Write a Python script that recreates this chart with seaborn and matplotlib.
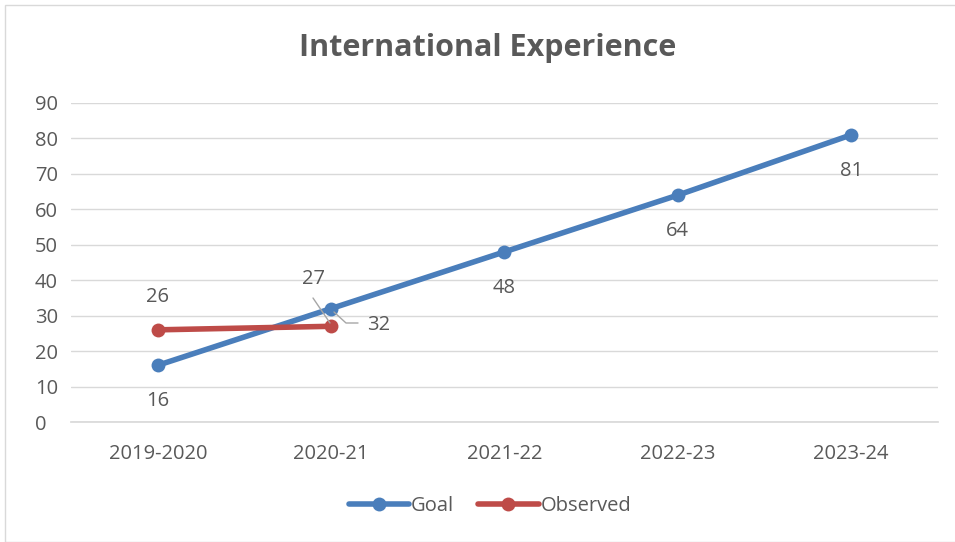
import matplotlib
matplotlib.use("Agg")
import matplotlib.pyplot as plt
import seaborn as sns
import pandas as pd
from matplotlib.patches import Rectangle
from matplotlib.lines import Line2D

# Data
years = ["2019-2020", "2020-21", "2021-22", "2022-23", "2023-24"]
goal = [16, 32, 48, 64, 81]
observed = [26, 27]

blue = "#4A7EBB"
red = "#BE4B48"
grey_text = "#595959"
fs = 14.5

sns.set_theme(style="white")
plt.rcParams["font.family"] = ["Open Sans", "DejaVu Sans"]

goal_df = pd.DataFrame({"year": years, "value": goal})
obs_df = pd.DataFrame({"year": years[:len(observed)], "value": observed})

fig = plt.figure(figsize=(9.55, 5.42), dpi=100)
ax = fig.add_axes([0.0745, 0.2214, 0.9075, 0.5886])

sns.lineplot(data=goal_df, x="year", y="value", ax=ax, color=blue, lw=4,
             marker="o", markersize=10, markeredgewidth=0, label="Goal",
             sort=False)
sns.lineplot(data=obs_df, x="year", y="value", ax=ax, color=red, lw=4,
             marker="o", markersize=10, markeredgewidth=0, label="Observed",
             sort=False)

ax.set_xlim(-0.5, len(years) - 0.5)
ax.set_ylim(0, 90)
ax.set_yticks(range(0, 91, 10))
ax.yaxis.grid(True, color="#D9D9D9", lw=1)
ax.set_axisbelow(True)
for s in ["top", "right", "left"]:
    ax.spines[s].set_visible(False)
ax.spines["bottom"].set_color("#D9D9D9")
ax.tick_params(axis="both", colors=grey_text, labelsize=fs, length=0)
ax.tick_params(axis="x", pad=16)
ax.tick_params(axis="y", pad=26)
for t in ax.get_yticklabels():
    t.set_horizontalalignment("left")
ax.set_xlabel("")
ax.set_ylabel("")

# data labels
lab = dict(color=grey_text, fontsize=fs, ha="center", va="center")
for i, v in enumerate(goal):
    if i == 1:
        continue
    ax.annotate(str(v), (i, v), xytext=(0, -26), textcoords="offset points", **lab)
ax.annotate(str(goal[1]), (1, goal[1]), xytext=(34, -12), textcoords="offset points", **lab)
ax.annotate(str(observed[0]), (0, observed[0]), xytext=(0, 24), textcoords="offset points", **lab)
ax.annotate(str(observed[1]), (1, observed[1]), xytext=(-13, 34), textcoords="offset points", **lab)

# leader lines
fig.add_artist(Line2D([313 / 955, 330 / 955], [1 - 298 / 542, 1 - 323 / 542],
                      color="#A6A6A6", lw=1))
fig.add_artist(Line2D([334 / 955, 346 / 955, 358 / 955],
                      [1 - 312 / 542, 1 - 323 / 542, 1 - 323 / 542],
                      color="#A6A6A6", lw=1))

fig.text(488 / 955, 1 - 48 / 542, "International Experience", fontsize=22,
         fontweight="bold", color=grey_text, ha="center", va="center")

fig.legend(*ax.get_legend_handles_labels(), loc="center",
           bbox_to_anchor=(490 / 955, 1 - 506 / 542), ncol=2, frameon=False,
           fontsize=fs, labelcolor=grey_text, handlelength=3.0,
           handletextpad=0.1, columnspacing=1.2)
ax.get_legend().remove()

fig.add_artist(Rectangle((5 / 955, 0), 1, 1 - 5 / 542, transform=fig.transFigure,
                         fill=False, edgecolor="#D9D9D9", lw=1))

fig.savefig("out.png", dpi=100)
